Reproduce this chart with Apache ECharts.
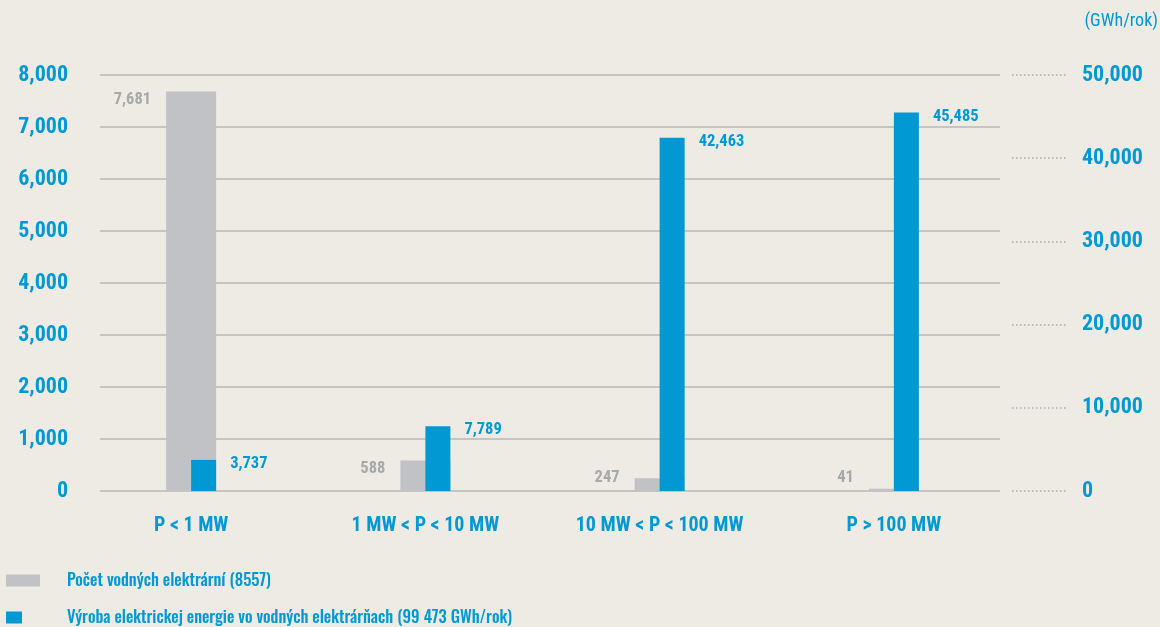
<!DOCTYPE html>
<html>
<head>
<meta charset="utf-8">
<style>
  html, body { margin: 0; padding: 0; background: #eeebe4; }
  #chart { width: 1160px; height: 627px; }
</style>
<script src="https://cdn.jsdelivr.net/npm/echarts@6/dist/echarts.min.js"></script>
</head>
<body>
<div id="chart"></div>
<script>
// kategórie a hodnoty
var categories = ['P < 1 MW', '1 MW < P < 10 MW', '10 MW < P < 100 MW', 'P > 100 MW'];
var countValues = [7681, 588, 247, 41];
var energyValues = [3737, 7789, 42463, 45485];
var countName = 'Počet vodných elektrární (8557)';
var energyName = 'Výroba elektrickej energie vo vodných elektrárňach (99 473 GWh/rok)';

var blue = '#0099d3',
    grayBar = '#c1c2c6',
    grayText = '#a7a8aa',
    font = "'Roboto Condensed', 'Open Sans Condensed', sans-serif",
    legendFont = "'Oswald', 'Roboto Condensed', sans-serif";

function fmt(v){
  return Number(v).toLocaleString('en-US');
}

var option = {
  backgroundColor: '#eeebe4',
  animation: false,
  textStyle: { fontFamily: font },
  title: {
    text: '(GWh/rok)',
    right: 2,
    top: 12,
    padding: 0,
    textStyle: { color: blue, fontSize: 18, fontWeight: 'normal', fontFamily: font }
  },
  legend: [
    {
      data: [countName],
      orient: 'vertical',
      left: 6, top: 572,
      padding: 0,
      itemWidth: 34, itemHeight: 12,
      icon: 'rect',
      textStyle: { color: blue, fontSize: 16.5, fontWeight: 500, fontFamily: legendFont, padding: [0, 0, 0, 22] }
    },
    {
      data: [energyName],
      orient: 'vertical',
      left: 6, top: 609,
      padding: 0,
      itemWidth: 16, itemHeight: 12,
      icon: 'rect',
      textStyle: { color: blue, fontSize: 16.5, fontWeight: 500, fontFamily: legendFont, padding: [0, 0, 0, 40] }
    }
  ],
  grid: [
    { left: 74, right: 149, top: 75, bottom: 136 },   // stĺpce
    { left: 100, right: 160, top: 75, bottom: 136 },  // plné čiary
    { left: 1012, right: 94, top: 75, bottom: 136 }   // bodkované čiary
  ],
  xAxis: [
    {
      type: 'category',
      gridIndex: 0,
      data: categories,
      axisLine: { show: false },
      axisTick: { show: false },
      axisLabel: { interval: 0, color: blue, fontSize: 20, fontWeight: 'bold', fontFamily: font, margin: 25 }
    },
    { type: 'value', gridIndex: 1, show: false },
    { type: 'value', gridIndex: 2, show: false }
  ],
  yAxis: [
    {
      type: 'value',
      gridIndex: 0,
      position: 'left',
      min: 0, max: 8000, interval: 1000,
      splitLine: { show: false },
      axisLine: { show: false },
      axisTick: { show: false },
      axisLabel: { color: blue, fontSize: 22, fontWeight: 'bold', fontFamily: font, margin: 6, formatter: fmt, verticalAlign: 'middle', padding: [0, 0, 8, 0] }
    },
    {
      type: 'value',
      gridIndex: 0,
      position: 'right',
      min: 0, max: 50000, interval: 10000,
      splitLine: { show: false },
      axisLine: { show: false },
      axisTick: { show: false },
      axisLabel: { color: blue, fontSize: 22, fontWeight: 'bold', fontFamily: font, margin: 71, formatter: fmt, verticalAlign: 'middle', padding: [0, 0, 8, 0] }
    },
    {
      type: 'value',
      gridIndex: 1,
      min: 0, max: 8000, interval: 1000,
      axisLine: { show: false },
      axisTick: { show: false },
      axisLabel: { show: false },
      splitLine: { lineStyle: { color: '#c6c5c4', width: 2 } }
    },
    {
      type: 'value',
      gridIndex: 2,
      min: 0, max: 50000, interval: 10000,
      axisLine: { show: false },
      axisTick: { show: false },
      axisLabel: { show: false },
      splitLine: { lineStyle: { color: '#acacac', width: 1.5, type: [1.5, 2.5] } }
    }
  ],
  series: [
    {
      name: countName,
      type: 'bar',
      xAxisIndex: 0,
      yAxisIndex: 0,
      data: countValues,
      barWidth: 50,
      barGap: '-50%',
      itemStyle: { color: grayBar },
      label: {
        show: true,
        position: [0, 0],
        offset: [-15, 8],
        align: 'right',
        verticalAlign: 'middle',
        color: grayText,
        fontSize: 16.5,
        fontWeight: 'bold',
        fontFamily: font,
        formatter: function(p){ return fmt(p.value); }
      },
      // nízke stĺpce: popis nesmie klesnúť až k osi
      labelLayout: function(p){
        var bottom = p.rect.y + p.rect.height;
        return { y: Math.min(p.rect.y + 8, bottom - 13), verticalAlign: 'middle', align: 'right' };
      }
    },
    {
      name: energyName,
      type: 'bar',
      xAxisIndex: 0,
      yAxisIndex: 1,
      data: energyValues,
      barWidth: 25,
      barGap: '-50%',
      itemStyle: { color: blue },
      label: {
        show: true,
        position: ['100%', 0],
        offset: [14, 4],
        align: 'left',
        verticalAlign: 'middle',
        color: blue,
        fontSize: 16.5,
        fontWeight: 'bold',
        fontFamily: font,
        formatter: function(p){ return fmt(p.value); }
      }
    }
  ]
};

var mycharts = echarts.init(document.getElementById('chart'));
mycharts.setOption(option);
</script>
</body>
</html>
